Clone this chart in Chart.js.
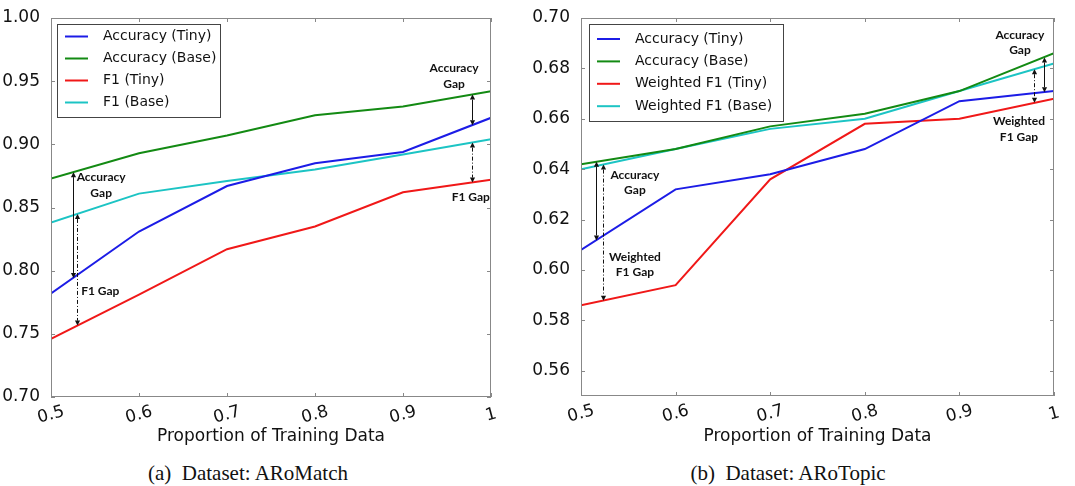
<!DOCTYPE html>
<html><head><meta charset="utf-8">
<script src="https://cdn.jsdelivr.net/npm/chart.js@4.4.0/dist/chart.umd.min.js"></script>
<style>
body{margin:0;background:#fff;width:1075px;height:486px;overflow:hidden;position:relative;}
.box{position:absolute;top:0;height:455px;}
.cap{position:absolute;top:461px;font-family:"Liberation Serif",serif;font-size:21px;color:#111;white-space:nowrap;transform:translateX(-50%);}
</style></head><body>
<div class="box" style="left:0;width:537px"><canvas id="c1"></canvas></div>
<div class="box" style="left:530px;width:545px"><canvas id="c2"></canvas></div>
<div class="cap" style="left:248px">(a)&nbsp; Dataset: ARoMatch</div>
<div class="cap" style="left:788px">(b)&nbsp; Dataset: ARoTopic</div>
<script>
// ---- data ----
const xValues = [0.5, 0.6, 0.7, 0.8, 0.9, 1.0];
const xTickLabels = ['0.5', '0.6', '0.7', '0.8', '0.9', '1'];
const xTitle = 'Proportion of Training Data';

// (a) ARoMatch
const matchLabels = ['Accuracy (Tiny)', 'Accuracy (Base)', 'F1 (Tiny)', 'F1 (Base)'];
const matchAccTiny = [0.782, 0.831, 0.867, 0.885, 0.894, 0.921];
const matchAccBase = [0.873, 0.893, 0.907, 0.923, 0.930, 0.942];
const matchF1Tiny  = [0.746, 0.781, 0.817, 0.835, 0.862, 0.872];
const matchF1Base  = [0.838, 0.861, 0.871, 0.880, 0.892, 0.904];
const matchYTicks  = [0.70, 0.75, 0.80, 0.85, 0.90, 0.95, 1.00];

// (b) ARoTopic
const topicLabels = ['Accuracy (Tiny)', 'Accuracy (Base)', 'Weighted F1 (Tiny)', 'Weighted F1 (Base)'];
const topicAccTiny = [0.608, 0.632, 0.638, 0.648, 0.667, 0.671];
const topicAccBase = [0.642, 0.648, 0.657, 0.662, 0.671, 0.686];
const topicF1Tiny  = [0.586, 0.594, 0.636, 0.658, 0.660, 0.668];
const topicF1Base  = [0.640, 0.648, 0.656, 0.660, 0.671, 0.682];
const topicYTicks  = [0.56, 0.58, 0.60, 0.62, 0.64, 0.66, 0.68, 0.70];

// gap annotations: arrow between two series (dataset index) at an x value
const matchArrows = [
  {x: 0.525, from: 1, to: 0, dash: false},
  {x: 0.530, from: 3, to: 2, dash: true},
  {x: 0.978, from: 1, to: 0, dash: false},
  {x: 0.978, from: 3, to: 2, dash: true}
];
const matchNotes = [
  {x: 0.557, y: 0.874, lines: ['Accuracy', 'Gap']},
  {x: 0.556, y: 0.784, lines: ['F1 Gap']},
  {x: 0.958, y: 0.960, lines: ['Accuracy', 'Gap']},
  {x: 0.977, y: 0.858, lines: ['F1 Gap']}
];
const topicArrows = [
  {x: 0.5155, from: 1, to: 0, dash: false},
  {x: 0.523, from: 3, to: 2, dash: true},
  {x: 0.989, from: 1, to: 0, dash: false},
  {x: 0.979, from: 3, to: 2, dash: true}
];
const topicNotes = [
  {x: 0.557, y: 0.6377, lines: ['Accuracy', 'Gap']},
  {x: 0.557, y: 0.6053, lines: ['Weighted', 'F1 Gap']},
  {x: 0.964, y: 0.6933, lines: ['Accuracy', 'Gap']},
  {x: 0.963, y: 0.6589, lines: ['Weighted', 'F1 Gap']}
];

const colors = ['#1c1ce6', '#138a13', '#f01818', '#1cc4c4'];

function interp(xs, ys, x) {
  for (let i = 0; i < xs.length - 1; i++) {
    if (x >= xs[i] && x <= xs[i + 1]) {
      const t = (x - xs[i]) / (xs[i + 1] - xs[i]);
      return ys[i] + t * (ys[i + 1] - ys[i]);
    }
  }
  return ys[ys.length - 1];
}

function drawArrow(ctx, x, yTop, yBot, dash) {
  const h = 5, w = 2.6;
  x = Math.round(x) + 0.5;
  ctx.save();
  ctx.strokeStyle = '#111'; ctx.fillStyle = '#111'; ctx.lineWidth = 1;
  if (dash) ctx.setLineDash([4, 2, 1, 2]);
  ctx.beginPath(); ctx.moveTo(x, yTop + h); ctx.lineTo(x, yBot - h); ctx.stroke();
  ctx.setLineDash([]);
  ctx.beginPath(); ctx.moveTo(x, yTop); ctx.lineTo(x - w, yTop + h); ctx.lineTo(x + w, yTop + h); ctx.closePath(); ctx.fill();
  ctx.beginPath(); ctx.moveTo(x, yBot); ctx.lineTo(x - w, yBot - h); ctx.lineTo(x + w, yBot - h); ctx.closePath(); ctx.fill();
  ctx.restore();
}

const decorPlugin = {
  id: 'decor',
  afterDatasetsDraw(chart) {
    const {ctx, chartArea: a, scales: {x: xs, y: ys}} = chart;
    const cfg = chart.options.plugins.decor;
    ctx.save();
    // frame
    ctx.strokeStyle = '#888'; ctx.lineWidth = 1;
    ctx.strokeRect(Math.round(a.left) + 0.5, Math.round(a.top) + 0.5, Math.round(a.right - a.left) - 1, Math.round(a.bottom - a.top) - 1);
    // inner ticks
    ctx.beginPath();
    cfg.yTicks.forEach(v => {
      const py = Math.round(ys.getPixelForValue(v)) + 0.5;
      ctx.moveTo(a.left, py); ctx.lineTo(a.left + 4, py);
      ctx.moveTo(a.right, py); ctx.lineTo(a.right - 4, py);
    });
    xValues.forEach(v => {
      const px = Math.round(xs.getPixelForValue(v)) + 0.5;
      ctx.moveTo(px, a.top); ctx.lineTo(px, a.top + 4);
      ctx.moveTo(px, a.bottom); ctx.lineTo(px, a.bottom - 4);
    });
    ctx.stroke();
    // x tick labels (rotated, centred)
    ctx.fillStyle = '#111';
    ctx.font = '17px "DejaVu Sans"';
    ctx.textAlign = 'center'; ctx.textBaseline = 'middle';
    xValues.forEach((v, i) => {
      const px = xs.getPixelForValue(v);
      ctx.save();
      ctx.translate(px, a.bottom + 18);
      ctx.rotate(-15 * Math.PI / 180);
      ctx.fillText(xTickLabels[i], 0, 0);
      ctx.restore();
    });
    // arrows
    cfg.arrows.forEach(ar => {
      const y1 = ys.getPixelForValue(interp(xValues, cfg.series[ar.from], ar.x));
      const y2 = ys.getPixelForValue(interp(xValues, cfg.series[ar.to], ar.x));
      drawArrow(ctx, xs.getPixelForValue(ar.x), y1, y2, ar.dash);
    });
    // notes
    ctx.font = 'bold 12px Lato';
    ctx.fillStyle = '#111';
    cfg.notes.forEach(n => {
      const px = xs.getPixelForValue(n.x), py = ys.getPixelForValue(n.y);
      n.lines.forEach((t, k) => ctx.fillText(t, px, py + k * 15.6));
    });
    // legend
    const ds = chart.data.datasets;
    const L = cfg.legend;
    const bx = a.left + L.dx, by = a.top + L.dy;
    ctx.fillStyle = '#fff';
    ctx.fillRect(bx, by, L.w, L.h);
    ctx.strokeStyle = '#444'; ctx.lineWidth = 1;
    ctx.strokeRect(Math.round(bx) + 0.5, Math.round(by) + 0.5, L.w, L.h);
    ctx.font = '14px "DejaVu Sans"';
    ctx.textAlign = 'left'; ctx.textBaseline = 'middle';
    ds.forEach((d, i) => {
      const ry = by + L.first + i * L.step;
      ctx.strokeStyle = d.borderColor; ctx.lineWidth = 2;
      ctx.beginPath(); ctx.moveTo(bx + 8, ry); ctx.lineTo(bx + 31, ry); ctx.stroke();
      ctx.fillStyle = '#111';
      ctx.fillText(d.label, bx + L.tx, ry);
    });
    ctx.restore();
  }
};

function makeChart(id, labels, series, yMin, yMax, yTicks, arrows, notes, legend, yWidth, padRight, xHeight) {
  return new Chart(document.getElementById(id), {
    type: 'line',
    data: {
      datasets: series.map((s, i) => ({
        label: labels[i],
        data: xValues.map((x, k) => ({x: x, y: s[k]})),
        borderColor: colors[i],
        backgroundColor: colors[i],
        borderWidth: 2,
        pointRadius: 0,
        tension: 0,
        fill: false
      }))
    },
    options: {
      responsive: true,
      maintainAspectRatio: false,
      animation: false,
      layout: {padding: {top: 18, right: padRight, bottom: 0, left: 0}},
      plugins: {
        legend: {display: false},
        tooltip: {enabled: false},
        decor: {yTicks: yTicks, arrows: arrows, notes: notes, legend: legend, series: series}
      },
      scales: {
        x: {
          type: 'linear', min: 0.5, max: 1.0,
          grid: {display: false}, border: {display: false},
          ticks: {display: false},
          afterBuildTicks: s => { s.ticks = xValues.map(v => ({value: v})); },
          afterFit: s => { s.height = xHeight; },
          title: {display: true, text: xTitle, color: '#111', font: {family: 'DejaVu Sans', size: 17}, padding: {top: 0, bottom: 8}}
        },
        y: {
          type: 'linear', min: yMin, max: yMax,
          grid: {display: false}, border: {display: false},
          afterBuildTicks: s => { s.ticks = yTicks.map(v => ({value: v})); },
          afterFit: s => { s.width = yWidth; },
          ticks: {color: '#111', padding: 3, font: {family: 'DejaVu Sans', size: 17}, callback: v => v.toFixed(2)}
        }
      }
    },
    plugins: [decorPlugin]
  });
}

makeChart('c1', matchLabels, [matchAccTiny, matchAccBase, matchF1Tiny, matchF1Base], 0.70, 1.00, matchYTicks,
  matchArrows, matchNotes, {dx: 6, dy: 6, w: 163, h: 93, first: 12.5, step: 22, tx: 46}, 51, 46, 58);
makeChart('c2', topicLabels, [topicAccTiny, topicAccBase, topicF1Tiny, topicF1Base], 0.55, 0.70, topicYTicks,
  topicArrows, topicNotes, {dx: 8, dy: 6, w: 194, h: 97, first: 15, step: 22.4, tx: 46}, 51, 21, 59);
</script>
</body></html>
